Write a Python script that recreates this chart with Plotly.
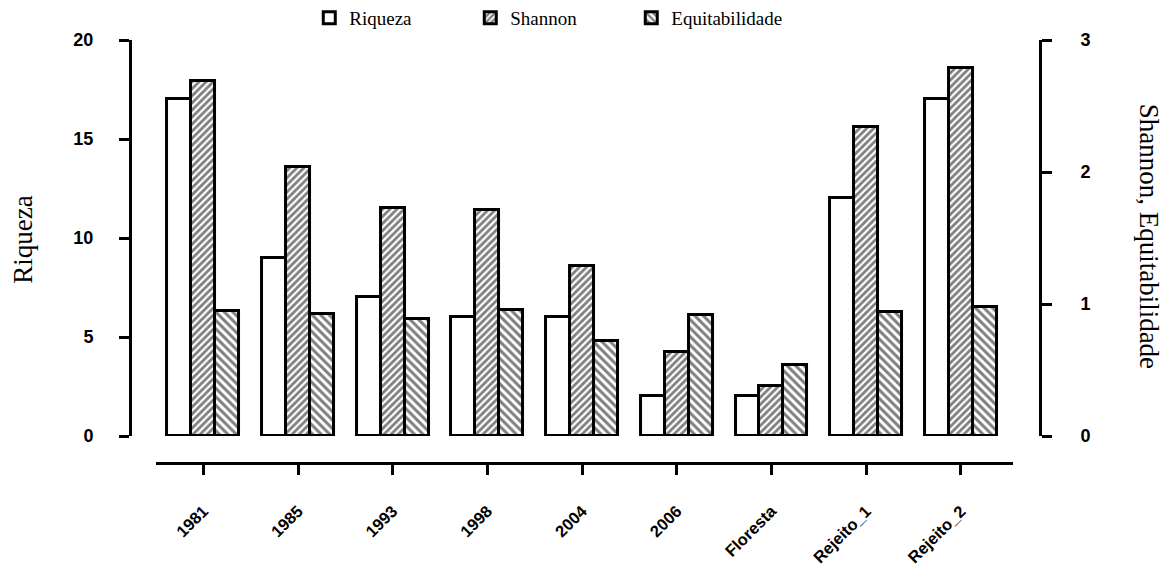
import plotly.graph_objects as go

categories = ["1981", "1985", "1993", "1998", "2004", "2006", "Floresta", "Rejeito_1", "Rejeito_2"]
riqueza = [17, 9, 7, 6, 6, 2, 2, 12, 17]
shannon = [2.69, 2.035, 1.73, 1.715, 1.29, 0.635, 0.38, 2.34, 2.79]
equitabilidade = [0.95, 0.925, 0.89, 0.955, 0.72, 0.913, 0.54, 0.94, 0.98]

W = 0.253
line = dict(color="black", width=3)

fig = go.Figure()
fig.add_trace(go.Bar(
    x=list(range(len(categories))), y=riqueza, name="Riqueza",
    width=W, offset=-0.38, yaxis="y",
    marker=dict(color="white", line=line), cliponaxis=False,
))
fig.add_trace(go.Bar(
    x=list(range(len(categories))), y=shannon, name="Shannon",
    width=W, offset=-0.38 + W, yaxis="y2",
    marker=dict(color="white", line=line,
                pattern=dict(shape="/", fgcolor="black", bgcolor="white", size=5, solidity=0.55)),
    cliponaxis=False,
))
fig.add_trace(go.Bar(
    x=list(range(len(categories))), y=equitabilidade, name="Equitabilidade",
    width=W, offset=-0.38 + 2 * W, yaxis="y2",
    marker=dict(color="white", line=line,
                pattern=dict(shape="\\", fgcolor="black", bgcolor="white", size=6, solidity=0.5)),
    cliponaxis=False,
))

ytickfont = dict(family="Liberation Sans, Arial", size=18, color="black", weight="bold")
xtickfont = dict(family="Liberation Sans, Arial", size=16.5, color="black", weight="bold")
titlefont = dict(family="Liberation Serif, Times New Roman", size=27, color="black")

fig.update_layout(
    width=1170, height=577,
    margin=dict(l=122, r=138, t=32, b=122, autoexpand=False),
    paper_bgcolor="white", plot_bgcolor="white",
    barmode="overlay",
    bargap=0,
    xaxis=dict(
        anchor="free", position=0,
        domain=[0.0286, 0.9703],
        range=[-0.5, 8.55],
        tickmode="array",
        tickvals=list(range(len(categories))),
        ticktext=categories,
        tickangle=-45,
        showline=True, linecolor="black", linewidth=3,
        ticks="outside", ticklen=10, tickwidth=3, tickcolor="black",
        showgrid=False, zeroline=False,
        tickfont=xtickfont,
        ticklabelstandoff=20,
    ),
    yaxis=dict(
        anchor="free", position=0,
        domain=[0.0638, 1],
        range=[0, 20], dtick=5,
        showline=True, linecolor="black", linewidth=3,
        ticks="outside", ticklen=10, tickwidth=3, tickcolor="black",
        showgrid=False, zeroline=False,
        tickfont=ytickfont,
        ticklabelstandoff=22,
    ),
    yaxis2=dict(
        anchor="free", position=1, overlaying="y", side="right",
        range=[0, 3], dtick=1,
        showline=True, linecolor="black", linewidth=3,
        ticks="outside", ticklen=10, tickwidth=3, tickcolor="black",
        showgrid=False, zeroline=False,
        tickfont=ytickfont,
        tickprefix="\u00a0" * 5,
    ),
    legend=dict(
        orientation="h",
        x=0.197, xanchor="left",
        y=1.052, yanchor="middle",
        font=dict(family="Liberation Serif, Times New Roman", size=19, color="black"),
        entrywidth=116,
        bgcolor="rgba(0,0,0,0)",
    ),
    showlegend=True,
    annotations=[
        dict(text="Riqueza", xref="paper", yref="paper",
             x=-0.118, y=0.527, showarrow=False, textangle=-90,
             font=titlefont, xanchor="center", yanchor="middle"),
        dict(text="Shannon, Equitabilidade", xref="paper", yref="paper",
             x=1.12, y=0.537, showarrow=False, textangle=90,
             font=titlefont, xanchor="center", yanchor="middle"),
    ],
)

fig.write_html("out.html")
